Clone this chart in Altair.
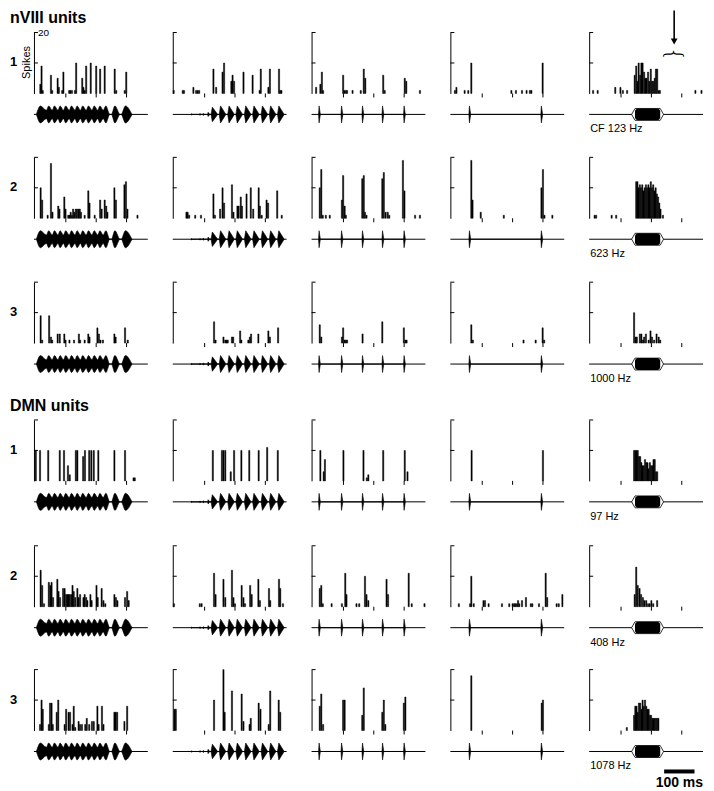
import altair as alt
import pandas as pd

# ---------------- data ----------------
X_DOMAIN = [-5, 370]          # ms
X_TICKS = [100, 200, 300]
Y_TICKS = [10, 20]
Y_MAX = 20
BIN_MS = 4

# PSTH bins: (bin start ms, spike count)
# nVIII unit 1
n1_c1 = [(14,3),(18,9),(22,1),(49,6),(53,1),(71,5),(75,2),(86,1),(90,7),(109,1),(113,1),(118,1),(128,1),(132,10),
         (152,5),(156,2),(160,1),(165,9),(180,10),(198,9),(211,8),(226,9),(259,8),(264,1),(292,1),(297,7)]
n1_c2 = [(-4,1),(26,1),(30,1),(61,2),(70,1),(75,1),(80,1),(127,8),(136,2),(157,7),(162,10),(186,4),(190,6),(195,4),
         (226,7),(256,6),(279,1),(283,8),(308,2),(313,8),(343,8),(347,1),(351,1)]
n1_c3 = [(8,2),(22,3),(27,7),(31,1),(97,6),(101,1),(106,1),(110,1),(128,1),(155,1),(165,8),(170,5),(229,6),(234,1),
         (300,5),(305,4),(350,1)]
n1_c4 = [(8,1),(13,2),(40,1),(52,1),(62,10),(194,1),(209,1),(229,1),(244,1),(255,1),(260,1),(297,10)]
n1_c5 = [(6,1),(21,1),(79,2),(96,2),(104,1),(118,1),(143,6),(148,9),(152,4),(156,10),(161,6),(165,10),(169,10),
         (174,7),(178,5),(182,5),(187,7),(191,4),(196,8),(200,4),(204,4),(209,5),(213,8),(217,8),(222,1),(226,1),
         (343,1),(363,1)]
# nVIII unit 2
n2_c1 = [(15,10),(20,6),(38,1),(49,18),(54,2),(73,4),(77,3),(93,7),(97,3),(106,1),(110,1),(114,2),(118,1),(122,3),
         (126,2),(131,3),(135,3),(140,3),(144,3),(148,2),(160,1),(172,9),(176,5),(193,1),(211,6),(216,3),(226,6),
         (231,4),(235,2),(258,10),(263,6),(291,11),(296,12),(301,3),(334,1)]
n2_c2 = [(38,2),(42,2),(47,1),(67,1),(86,1),(127,8),(132,1),(149,3),(157,10),(162,5),(188,11),(193,2),(206,4),
         (210,4),(217,7),(221,4),(236,8),(250,10),(258,3),(276,10),(280,4),(286,1),(302,6),(307,5),(337,9),(352,1)]
n2_c3 = [(20,10),(25,16),(30,1),(40,1),(53,1),(93,6),(97,14),(102,4),(106,1),(160,13),(165,14),(169,2),(174,1),
         (226,13),(231,15),(237,2),(244,2),(249,1),(294,19),(299,9),(334,1),(350,1)]
n2_c4 = [(62,19),(66,6),(93,2),(169,1),(293,10),(298,16),(303,1),(329,1)]
n2_c5 = [(11,1),(16,1),(67,1),(82,1),(148,12),(152,12),(156,10),(160,11),(164,10),(168,11),(172,9),(176,10),
         (180,11),(184,10),(188,11),(192,10),(196,12),(200,10),(204,11),(208,9),(212,10),(216,8),(220,7),(224,5),
         (228,3),(236,1)]
# nVIII unit 3
n3_c1 = [(15,9),(20,1),(43,9),(49,2),(53,1),(71,3),(78,3),(93,3),(97,1),(110,1),(125,1),(141,3),(145,1),(160,1),
         (172,3),(176,2),(202,5),(207,3),(212,1),(220,1),(258,3),(262,2),(293,5),(302,1)]
n3_c2 = [(129,7),(134,1),(160,2),(166,1),(170,1),(174,1),(188,2),(192,2),(215,4),(219,1),(242,1),(247,2),(251,3),
         (275,3),(308,4),(313,2),(340,5)]
n3_c3 = [(20,6),(25,2),(93,2),(97,5),(102,1),(106,1),(110,1),(161,3),(226,7),(297,5),(302,1),(306,1)]
n3_c4 = [(62,6),(67,1),(234,1),(274,1),(297,5),(302,1)]
n3_c5 = [(141,10),(146,2),(150,2),(160,3),(165,3),(170,1),(174,2),(180,3),(189,1),(195,4),(200,2),(207,1),
         (215,3),(222,2),(227,1)]
# DMN unit 1
d1_c1 = [(-1,10),(13,10),(40,10),(78,10),(92,10),(105,5),(111,2),(131,10),(136,10),(155,8),(161,10),(175,10),
         (182,10),(190,10),(205,10),(258,10),(293,10),(321,1),(325,1)]
d1_c2 = [(125,10),(155,10),(160,10),(166,10),(184,3),(195,10),(219,10),(245,10),(276,10),(304,11),(339,10)]
d1_c3 = [(22,10),(33,3),(37,7),(98,10),(164,10),(175,1),(180,2),(229,10),(300,10),(309,3)]
d1_c4 = [(63,10),(298,10)]
d1_c5 = [(141,10),(145,10),(149,10),(153,10),(157,8),(161,8),(165,6),(169,5),(173,5),(177,7),(181,6),(185,6),
         (189,4),(193,6),(197,5),(201,5),(205,7),(209,7),(213,3),(217,3)]
# DMN unit 2
d2_c1 = [(15,12),(20,7),(26,1),(42,8),(47,7),(51,8),(56,3),(70,9),(74,5),(79,3),(89,6),(94,6),(99,4),(103,4),
         (107,4),(111,4),(116,4),(120,7),(124,5),(129,3),(136,6),(140,3),(145,4),(156,3),(160,4),(165,3),(169,2),
         (179,4),(183,2),(199,7),(203,3),(216,6),(222,2),(228,1),(258,4),(263,3),(268,2),(293,3),(300,5),(305,2)]
d2_c2 = [(-3,1),(82,1),(88,1),(129,11),(134,4),(160,9),(166,3),(188,12),(193,3),(198,1),(220,7),(226,3),(231,1),
         (248,7),(253,4),(275,9),(280,2),(310,6),(314,2),(343,9),(347,6),(356,1)]
d2_c3 = [(20,6),(25,7),(30,1),(59,1),(93,1),(104,11),(108,4),(141,1),(150,1),(169,10),(174,4),(180,2),(240,9),
         (245,4),(313,11),(323,1),(365,1)]
d2_c4 = [(21,1),(58,1),(62,10),(70,1),(102,2),(107,2),(119,1),(163,1),(187,1),(198,1),(203,1),(207,1),(212,1),
         (216,2),(220,1),(229,2),(242,3),(258,1),(263,1),(285,1),(307,11),(312,3),(343,1),(350,1),(362,4)]
d2_c5 = [(143,4),(148,13),(153,7),(159,6),(164,4),(170,3),(175,2),(181,2),(187,1),(192,1),(198,2),(204,1),(217,2)]
# DMN unit 3
d3_c1 = [(13,2),(18,10),(22,7),(42,2),(46,9),(51,9),(55,2),(68,6),(73,10),(94,2),(99,7),(107,6),(112,6),(120,2),
         (124,8),(129,1),(140,3),(145,2),(151,2),(162,2),(167,4),(175,2),(184,3),(190,3),(202,8),(206,2),(217,8),
         (222,2),(258,6),(262,6),(267,6),(291,3),(300,8)]
d3_c2 = [(-1,7),(3,7),(129,10),(160,20),(164,6),(188,13),(220,12),(226,3),(246,2),(250,4),(276,9),(282,7),(309,2),
         (314,13),(342,10),(347,6)]
d3_c3 = [(20,8),(25,12),(31,2),(97,10),(102,10),(160,5),(165,14),(226,6),(231,10),(236,2),(297,9),(302,11)]
d3_c4 = [(62,18),(294,9),(298,10)]
d3_c5 = [(117,1),(141,5),(145,8),(149,8),(153,6),(157,9),(161,9),(165,7),(169,10),(173,8),(177,10),(181,8),
         (185,7),(189,7),(193,5),(197,5),(201,4),(205,4),(209,4),(213,4),(217,4),(221,4)]

# stimulus envelopes (ms, relative amplitude)
grunt_on  = [3, 36, 55, 74, 92, 111, 130, 148, 167, 186, 205, 223, 250, 282]
grunt_off = [36, 55, 74, 92, 111, 130, 148, 167, 186, 205, 223, 245, 279, 318]
grunt_amp = [1.0, 1.0, 1.0, 1.0, 1.0, 1.0, 1.0, 1.0, 1.0, 1.0, 1.0, 1.0, 1.0, 1.0]

growl_on  = [55, 83, 94, 110, 121, 148, 176, 203, 231, 258, 286, 313, 340]
growl_off = [61, 89, 100, 117, 143, 170, 198, 225, 253, 280, 308, 335, 362]
growl_amp = [0.08, 0.1, 0.12, 0.25, 0.85, 1.0, 1.0, 1.0, 1.0, 1.0, 1.0, 1.0, 1.0]

knock5_on  = [18, 92, 161, 227, 298]
knock5_off = [24, 98, 167, 233, 304]
knock5_amp = [1.0, 1.0, 1.0, 1.0, 1.0]

knock2_on  = [56, 293]
knock2_off = [62, 299]
knock2_amp = [1.0, 1.0]

TONE_ON, TONE_OFF, TONE_RAMP, TONE_AMP = 135, 240, 11, 0.7
tone_labels = ["CF 123 Hz", "623 Hz", "1000 Hz", "97 Hz", "408 Hz", "1078 Hz"]
section_titles = ["nVIII units", "DMN units"]

ARROW_T = 275
SCALE_T0, SCALE_MS = 242, 100

# ---------------- layout / styles ----------------
W = 114          # panel width
HH = 61          # histogram height
WAVE_C = 82      # waveform centre below histogram top
WAVE_R = 12      # waveform half height in px
FONT = "Liberation Sans"
XS = alt.Scale(domain=X_DOMAIN, nice=False, zero=False)
# (top offset of histogram inside view, view height) per row
ROW_GEOM = [(24, 147.7), (0, 123.6), (0, 115.4), (22, 146.3), (0, 123), (0, 122)]


def ys(off):
    return alt.Scale(domain=[0, Y_MAX], range=[off + HH, off], nice=False, zero=False)


def ws(off):
    return alt.Scale(domain=[-1.41, 1.41], range=[off + WAVE_C + WAVE_R, off + WAVE_C - WAVE_R],
                     nice=False, zero=False)


def text_px(s, x, y, size, weight="normal", align="left", baseline="alphabetic", angle=0):
    return alt.Chart(pd.DataFrame({"s": [s]})).mark_text(
        align=align, baseline=baseline, fontSize=size, fontWeight=weight, font=FONT,
        color="black", angle=angle
    ).encode(text="s:N", x=alt.value(x), y=alt.value(y))


def hist_layers(bins, off, h):
    df = pd.DataFrame(bins, columns=["t", "n"])
    df["t2"] = df["t"] + BIN_MS
    bars = alt.Chart(df).mark_rect(color="black", stroke="black", strokeWidth=0.45).encode(
        x=alt.X("t:Q", scale=XS, axis=alt.Axis(values=X_TICKS, labels=False, ticks=False,
                                                domainColor="black", domainWidth=1, grid=False,
                                                title=None, offset=-(h - off - HH))),
        x2="t2:Q",
        y=alt.Y("n:Q", scale=ys(off), axis=alt.Axis(labels=False, ticks=False, domainColor="black",
                                                     domainWidth=1, grid=False, title=None)),
        y2=alt.datum(0),
    )
    # inward y ticks (10, 20) and downward x ticks (100, 200, 300 ms)
    yt = alt.Chart(pd.DataFrame({"v": Y_TICKS})).mark_rule(color="black", strokeWidth=1).encode(
        y=alt.Y("v:Q", scale=ys(off), axis=None), x=alt.value(0), x2=alt.value(4))
    xt = alt.Chart(pd.DataFrame({"t": X_TICKS})).mark_rule(color="black", strokeWidth=1).encode(
        x=alt.X("t:Q", scale=XS, axis=None), y=alt.value(off + HH), y2=alt.value(off + HH + 4))
    return [bars, yt, xt]


def envelope(on, off, amp, peak_frac, waist):
    pts = []
    for i, (a, b, hgt) in enumerate(zip(on, off, amp)):
        tp = i > 0 and off[i - 1] == a
        tn = i < len(on) - 1 and on[i + 1] == b
        pts.append((a, waist * hgt if tp else 0.0))
        pts.append((a + peak_frac * (b - a), hgt))
        pts.append((b, waist * hgt if tn else 0.0))
    df = pd.DataFrame(pts, columns=["t", "a"])
    df["b"] = -df["a"]
    return df


def baseline_rule(off):
    return alt.Chart(pd.DataFrame({"k": [0]})).mark_rule(color="black", strokeWidth=1).encode(
        x=alt.value(0), x2=alt.value(W), y=alt.value(off + WAVE_C))


def pulse_layers(on, offt, amp, peak_frac, waist, off, interp="linear"):
    env = envelope(on, offt, amp, peak_frac, waist)
    area = alt.Chart(env).mark_area(color="black", stroke="black", strokeWidth=0.6, interpolate=interp).encode(
        x=alt.X("t:Q", scale=XS, axis=None),
        y=alt.Y("a:Q", scale=ws(off), axis=None),
        y2="b:Q",
    )
    return [baseline_rule(off), area]


def tone_layers(label, off):
    hexdf = pd.DataFrame({
        "t": [TONE_ON, TONE_ON + TONE_RAMP, TONE_OFF - TONE_RAMP, TONE_OFF],
        "a": [0, TONE_AMP, TONE_AMP, 0],
    })
    hexdf["b"] = -hexdf["a"]
    hexa = alt.Chart(hexdf).mark_area(color="white", stroke="black", strokeWidth=0.8, interpolate="linear").encode(
        x=alt.X("t:Q", scale=XS, axis=None), y=alt.Y("a:Q", scale=ws(off), axis=None), y2="b:Q")
    box = alt.Chart(pd.DataFrame({"t": [TONE_ON + TONE_RAMP], "t2": [TONE_OFF - TONE_RAMP],
                                  "a": [TONE_AMP], "b": [-TONE_AMP]})).mark_rect(
        color="black", cornerRadius=3).encode(
        x=alt.X("t:Q", scale=XS, axis=None), x2="t2:Q", y=alt.Y("a:Q", scale=ws(off), axis=None), y2="b:Q")
    lab = text_px(label, 1, off + WAVE_C + 18, 11)
    return [baseline_rule(off), hexa, box, lab]


def wave_layers(col, label, off):
    if col == 0:
        return pulse_layers(grunt_on, grunt_off, grunt_amp, 0.4, 0.5, off, "monotone")
    if col == 1:
        return pulse_layers(growl_on, growl_off, growl_amp, 0.2, 0.0, off)
    if col == 2:
        return pulse_layers(knock5_on, knock5_off, knock5_amp, 0.3, 0.0, off)
    if col == 3:
        return pulse_layers(knock2_on, knock2_off, knock2_amp, 0.3, 0.0, off)
    return tone_layers(label, off)


def arrow_layers(off):
    arrow_df = pd.DataFrame({"t": [ARROW_T], "s": ["}"]})
    shaft = alt.Chart(arrow_df).mark_rule(color="black", strokeWidth=1.6).encode(
        x=alt.X("t:Q", scale=XS, axis=None), y=alt.value(off - 22), y2=alt.value(off + 8))
    head = alt.Chart(arrow_df).mark_point(shape="triangle-down", filled=True, size=45, color="black",
                                          opacity=1).encode(
        x=alt.X("t:Q", scale=XS, axis=None), y=alt.value(off + 9))
    brace = alt.Chart(arrow_df).mark_text(angle=270, fontSize=23, font="DejaVu Sans", fontWeight=200,
                                          align="center", baseline="middle", color="black").encode(
        x=alt.X("t:Q", scale=XS, axis=None), y=alt.value(off + 21), text="s:N")
    return [shaft, head, brace]


def scalebar_layers(off):
    sb = pd.DataFrame({"t": [SCALE_T0], "t2": [SCALE_T0 + SCALE_MS], "label": ["100 ms"]})
    sbar = alt.Chart(sb).mark_rule(color="black", strokeWidth=4).encode(
        x=alt.X("t:Q", scale=XS, axis=None), x2="t2:Q", y=alt.value(off + WAVE_C + 20))
    slab = alt.Chart(sb).transform_calculate(mid="(datum.t + datum.t2) / 2").mark_text(
        fontSize=14, fontWeight="bold", font=FONT, align="center", baseline="alphabetic", color="black").encode(
        x=alt.X("mid:Q", scale=XS, axis=None), y=alt.value(off + WAVE_C + 36), text="label:N")
    return [sbar, slab]


def panel(bins, r, c, unit_num, label):
    off, h = ROW_GEOM[r]
    layers = hist_layers(bins, off, h) + wave_layers(c, label, off)
    if c == 0:
        layers.append(text_px(str(unit_num), -24, off + 34, 13, weight="bold"))
        if r == 0:
            layers.append(text_px(section_titles[0], -24, off - 10, 16, weight="bold"))
            layers.append(text_px("Spikes", -7, off + 30, 11, align="center", baseline="middle", angle=270))
            layers.append(text_px("20", 4, off, 10, baseline="middle"))
        if r == 3:
            layers.append(text_px(section_titles[1], -24, off - 9, 16, weight="bold"))
    if c == 4 and r == 0:
        layers += arrow_layers(off)
    if c == 4 and r == 5:
        layers += scalebar_layers(off)
    return alt.layer(*layers).resolve_scale(y="independent").properties(width=W, height=h)


all_rows = [
    [n1_c1, n1_c2, n1_c3, n1_c4, n1_c5],
    [n2_c1, n2_c2, n2_c3, n2_c4, n2_c5],
    [n3_c1, n3_c2, n3_c3, n3_c4, n3_c5],
    [d1_c1, d1_c2, d1_c3, d1_c4, d1_c5],
    [d2_c1, d2_c2, d2_c3, d2_c4, d2_c5],
    [d3_c1, d3_c2, d3_c3, d3_c4, d3_c5],
]
unit_nums = [1, 2, 3, 1, 2, 3]

rows = []
for r, bins5 in enumerate(all_rows):
    rows.append(alt.hconcat(*[panel(b, r, c, unit_nums[r], tone_labels[r]) for c, b in enumerate(bins5)],
                            spacing=25, bounds="flush"))

chart = alt.vconcat(*rows, spacing=0).properties(
    padding={"left": 2, "top": 0, "right": 2, "bottom": 2}
).configure_view(stroke=None)

chart.save("out.html", embed_options={"renderer": "svg", "actions": False})
